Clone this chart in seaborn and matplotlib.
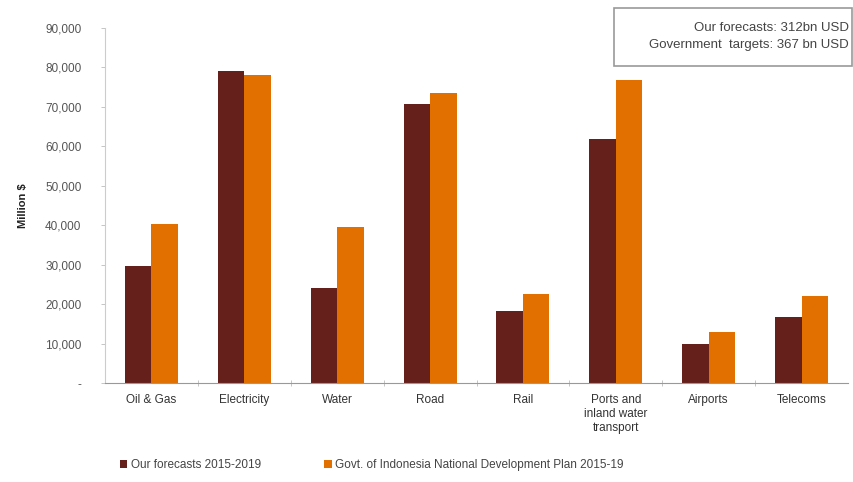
import matplotlib
matplotlib.use("Agg")
import matplotlib.pyplot as plt
import seaborn as sns
import pandas as pd
from matplotlib.patches import Patch, Rectangle
from matplotlib.ticker import FuncFormatter

categories = ["Oil & Gas", "Electricity", "Water", "Road", "Rail",
              "Ports and\ninland water\ntransport", "Airports", "Telecoms"]
forecasts = [29700, 79200, 24100, 70800, 18300, 61900, 9900, 16800]
govt_plan = [40300, 78200, 39600, 73400, 22600, 76900, 12900, 22100]
series_names = ["Our forecasts 2015-2019",
                "Govt. of Indonesia National Development Plan 2015-19"]
colors = ["#66201C", "#E27000"]

df = pd.DataFrame({
    "Category": categories * 2,
    "Value": forecasts + govt_plan,
    "Series": [series_names[0]] * len(categories) + [series_names[1]] * len(categories),
})

sns.set_theme(style="white")
plt.rcParams['font.family'] = ['Liberation Sans', 'DejaVu Sans']

W, H = 854, 482
fig = plt.figure(figsize=(W / 100, H / 100), dpi=100)
ax = fig.add_axes([0.123, 0.205, 0.87, 0.737])

sns.barplot(data=df, x="Category", y="Value", hue="Series", palette=colors,
            width=0.57, gap=0, saturation=1, ax=ax, legend=False, linewidth=0)

ax.set_ylim(0, 90000)
ax.set_xlim(-0.5, len(categories) - 0.5)
ax.set_yticks(range(0, 90001, 10000))
ax.yaxis.set_major_formatter(FuncFormatter(lambda v, p: "-" if v == 0 else f"{int(v):,}"))
ax.tick_params(axis="y", left=True, labelsize=8.5, labelcolor="#555555", length=3, width=0.6,
               color="#bbbbbb", pad=14)
ax.tick_params(axis="x", which="major", labelsize=8.5, labelcolor="#333333", length=0, pad=8)
ax.set_xlabel("")
ax.set_ylabel("Million $", fontsize=8, fontweight="bold", color="#222222", labelpad=12)

for s in ["top", "right"]:
    ax.spines[s].set_visible(False)
ax.spines["left"].set_color("#cccccc")
ax.spines["left"].set_linewidth(0.8)
ax.spines["bottom"].set_color("#999999")
ax.spines["bottom"].set_linewidth(0.8)

# minor ticks between categories on x axis
ax.set_xticks([i + 0.5 for i in range(len(categories) - 1)], minor=True)
ax.tick_params(axis="x", which="minor", bottom=True, length=5, width=0.6,
               color="#bbbbbb", direction="inout")

# annotation box (top right)
x0, x1, y0, y1 = 614, 852, 8, 66
fig.patches.append(Rectangle((x0 / W, 1 - y1 / H), (x1 - x0) / W, (y1 - y0) / H,
                             transform=fig.transFigure, facecolor="white",
                             edgecolor="#999999", linewidth=1.2, zorder=5))
fig.text(849 / W, 1 - 28 / H, "Our forecasts: 312bn USD", ha="right", va="center",
         fontsize=9.5, color="#444444", zorder=6)
fig.text(849 / W, 1 - 45 / H, "Government  targets: 367 bn USD", ha="right", va="center",
         fontsize=9.5, color="#444444", zorder=6)

handles = [Patch(facecolor=c, edgecolor="none") for c in colors]
fig.legend(handles, series_names, loc="center left", bbox_to_anchor=(0.128, 0.035),
           ncol=2, frameon=False, fontsize=8.5, handlelength=0.6, handleheight=0.6,
           handletextpad=0.3, columnspacing=5.4, labelcolor="#444444")

fig.savefig("out.png", dpi=100)
